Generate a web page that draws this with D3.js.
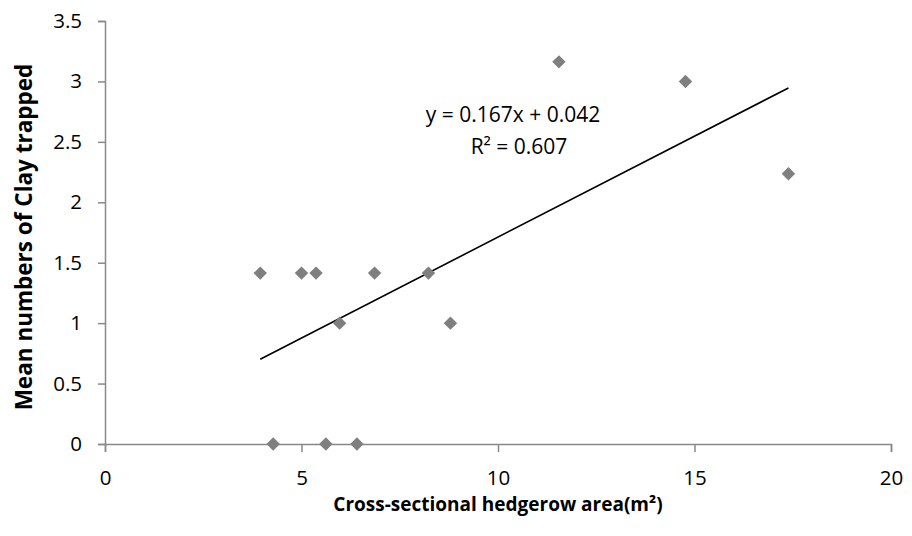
<!DOCTYPE html>
<html>
<head>
<meta charset="utf-8">
<script src="https://cdn.jsdelivr.net/npm/d3@7"></script>
<style>
  html, body { margin: 0; padding: 0; background: #fff; }
  svg { display: block; font-family: "Open Sans", sans-serif; }
</style>
</head>
<body>
<svg id="chart" width="912" height="536"></svg>
<script>
// Hedgerow cross-sectional area (m²) vs mean number of clay particles trapped
const areaValues = [3.95, 5.0, 5.37, 6.86, 8.23, 5.97, 8.79, 4.28, 5.62, 6.41, 11.55, 14.77, 17.39];
const clayValues = [1.414, 1.414, 1.414, 1.414, 1.414, 1.0, 1.0, 0, 0, 0, 3.162, 3.0, 2.236];
const xTicks = [0, 5, 10, 15, 20];
const yTicks = [0, 0.5, 1, 1.5, 2, 2.5, 3, 3.5];
const trendSlope = 0.167;
const trendIntercept = 0.042;
const rSquared = 0.607;

const svg = d3.select("#chart");
const margin = { left: 105, right: 21, top: 21, bottom: 92 };
const W = 912, H = 536;
const font = "'Open Sans', sans-serif";

const x = d3.scaleLinear().domain([0, 20]).range([margin.left, W - margin.right]);
const y = d3.scaleLinear().domain([0, 3.5]).range([H - margin.bottom, margin.top]);

const axisColor = "#898989";

// Y axis
const gy = svg.append("g")
  .attr("transform", `translate(${x(0)},0)`)
  .call(d3.axisLeft(y).tickValues(yTicks).tickSize(7).tickPadding(16).tickFormat(d3.format("")));
gy.select(".domain").attr("stroke", axisColor).attr("stroke-width", 1.5);
gy.selectAll(".tick line").attr("stroke", axisColor).attr("stroke-width", 1.5);
gy.selectAll(".tick text").attr("font-size", 20.5).attr("fill", "#000").attr("font-family", font);

// X axis
const gx = svg.append("g")
  .attr("transform", `translate(0,${y(0)})`)
  .call(d3.axisBottom(x).tickValues(xTicks).tickSize(8).tickPadding(18).tickFormat(d3.format("")));
gx.select(".domain").attr("stroke", axisColor).attr("stroke-width", 1.5);
gx.selectAll(".tick line").attr("stroke", axisColor).attr("stroke-width", 1.5);
gx.selectAll(".tick text").attr("font-size", 20.5).attr("fill", "#000").attr("font-family", font);

// Linear trend line over the observed x range
const xMin = d3.min(areaValues), xMax = d3.max(areaValues);
svg.append("line")
  .attr("x1", x(xMin)).attr("y1", y(trendSlope * xMin + trendIntercept))
  .attr("x2", x(xMax)).attr("y2", y(trendSlope * xMax + trendIntercept))
  .attr("stroke", "#000").attr("stroke-width", 1.6);

// Diamond markers
const diamond = d3.symbol().type(d3.symbolDiamond2).size(115);
svg.append("g").selectAll("path")
  .data(areaValues.map((a, i) => [a, clayValues[i]]))
  .join("path")
  .attr("d", diamond)
  .attr("transform", d => `translate(${x(d[0])},${y(d[1])})`)
  .attr("fill", "#7f7f7f");

// Regression equation and R²
const eq = svg.append("text")
  .attr("text-anchor", "middle")
  .attr("font-size", 21)
  .attr("fill", "#000");
eq.append("tspan").attr("x", 513).attr("y", 122)
  .text(`y = ${trendSlope}x + ${trendIntercept}`);
eq.append("tspan").attr("x", 519).attr("y", 154)
  .text(`R² = ${rSquared}`);

// Axis titles
svg.append("text")
  .attr("x", 498).attr("y", 511)
  .attr("text-anchor", "middle")
  .attr("font-size", 19).attr("font-weight", "bold")
  .text("Cross-sectional hedgerow area(m²)");

svg.append("text")
  .attr("transform", `translate(32,237) rotate(-90)`)
  .attr("text-anchor", "middle")
  .attr("font-size", 22.5).attr("font-weight", "bold")
  .text("Mean numbers of Clay trapped");
</script>
</body>
</html>
